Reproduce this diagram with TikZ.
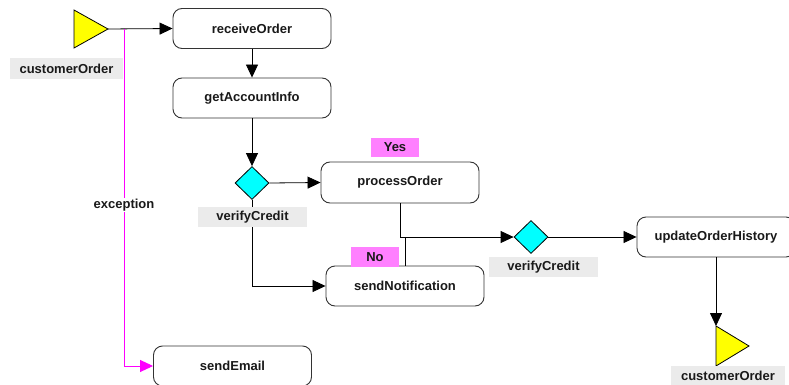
\documentclass[tikz,border=0pt]{standalone}
\usepackage{fontspec}
\setmainfont{Liberation Sans}
\usetikzlibrary{arrows.meta,shapes.geometric}
\definecolor{lblgray}{HTML}{EBEBEB}
\definecolor{lblpink}{HTML}{FF80FF}
\definecolor{flowmag}{HTML}{FF00FF}
\definecolor{boxline}{HTML}{333333}
\definecolor{decfill}{HTML}{00FFFF}
\definecolor{objfill}{HTML}{FFFF00}
\tikzset{
  every node/.style={font=\fontsize{13}{15}\selectfont\bfseries, text=black!90},
  activity/.style={draw=boxline, line width=0.9pt, rounded corners=9pt, fill=white,
    minimum width=158pt, minimum height=40pt, inner sep=0pt},
  decision/.style={diamond, draw=black, line width=0.8pt, fill=decfill,
    minimum width=34pt, minimum height=33pt, inner sep=0pt},
  objtri/.style={draw=black, line width=0.8pt, fill=objfill},
  graylbl/.style={fill=lblgray, minimum width=110pt, minimum height=20pt, inner sep=0pt},
  pinklbl/.style={fill=lblpink, minimum width=48pt, minimum height=19pt, inner sep=0pt},
  flow/.style={draw=black, line width=0.8pt, -{Triangle[length=13pt,width=12pt]}},
  plainflow/.style={draw=black, line width=0.8pt},
  exflow/.style={draw=flowmag, line width=0.9pt, -{Triangle[length=13pt,width=12pt]}},
}
\begin{document}
\begin{tikzpicture}[x=1pt,y=-1pt]
\useasboundingbox (0,0) rectangle (789,385);

% object nodes (triangles)
\filldraw[objtri] (74,10) -- (108,29) -- (74,48) -- cycle;
\coordinate (startApex) at (108,29);
\coordinate (exTop) at (124,29);
\filldraw[objtri] (716,326) -- (749,346) -- (716,366) -- cycle;
\coordinate (endTop) at (716,326);

% activities
\node[activity] (recv) at (252,28.5) {receiveOrder};
\node[activity] (acct) at (252,98) {getAccountInfo};
\node[activity, minimum height=41pt] (proc) at (400,182.5) {processOrder};
\node[activity] (notif) at (405,286) {sendNotification};
\node[activity] (hist) at (716,237) {updateOrderHistory};
\node[activity] (email) at (232.5,366) {sendEmail};

% decisions
\node[decision] (dia1) at (252,183) {};
\node[decision] (dia2) at (531,237) {};

% control flows
\draw[flow] (startApex) -- (recv.west);
\draw[flow] (recv) -- (acct);
\draw[flow] (acct) -- (dia1.north);
\draw[flow] (dia1.east) -- (proc.west);
\draw[flow] (dia1.south) |- (notif.west);
\draw[flow] (proc.south) |- (dia2.west);
\draw[plainflow] (notif.north) -- (notif.north |- dia2.west);
\draw[flow] (dia2.east) -- (hist.west);
\draw[flow] (hist.south) -- (endTop);

% exception flow
\draw[exflow] (exTop) |- (email.west);
\node[fill=white, inner sep=1pt] (exlbl) at (124,205) {exception};

% labels
\node[graylbl, minimum width=113pt, minimum height=21pt] (lblStart) at (66.5,68.5) {customerOrder};
\node[graylbl, minimum width=109pt] (lblDia1) at (252.5,217) {verifyCredit};
\node[pinklbl] (lblYes) at (395,147.5) {Yes};
\node[pinklbl, minimum height=20pt] (lblNo) at (375,257) {No};
\node[graylbl, minimum width=109pt] (lblDia2) at (543.5,267) {verifyCredit};
\node[graylbl, minimum width=114pt] (lblEnd) at (728,376) {customerOrder};
\end{tikzpicture}
\end{document}
